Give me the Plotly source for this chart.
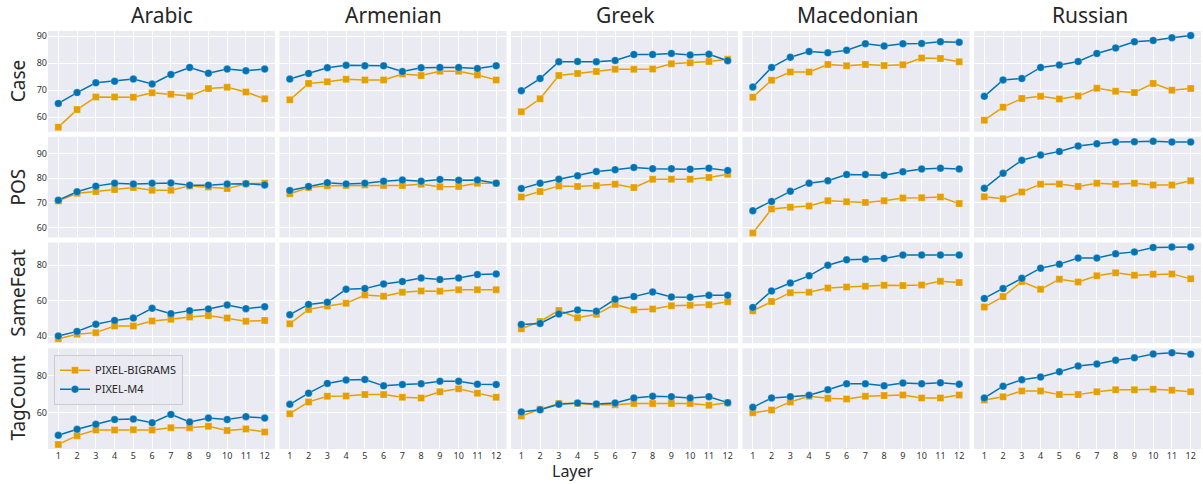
import plotly.graph_objects as go
from plotly.subplots import make_subplots

layers = list(range(1, 13))
languages = ["Arabic", "Armenian", "Greek", "Macedonian", "Russian"]
tasks = ["Case", "POS", "SameFeat", "TagCount"]
model_names = ["PIXEL-BIGRAMS", "PIXEL-M4"]
y_ticks = {"Case": [60, 70, 80, 90], "POS": [60, 70, 80, 90],
           "SameFeat": [40, 60, 80], "TagCount": [40, 60, 80]}

case_bigrams = {
    "Arabic": [56.3, 62.8, 67.5, 67.5, 67.4, 69.0, 68.5, 67.8, 70.6, 71.1, 69.3, 66.8],
    "Armenian": [66.4, 72.5, 73.1, 74.0, 73.8, 73.8, 76.0, 75.4, 77.0, 77.0, 75.6, 73.8],
    "Greek": [62.0, 66.8, 75.4, 76.2, 76.9, 77.7, 77.7, 77.8, 79.8, 80.1, 80.6, 81.4],
    "Macedonian": [67.4, 73.7, 76.7, 76.7, 79.5, 79.0, 79.5, 79.1, 79.4, 81.9, 81.7, 80.5],
    "Russian": [58.9, 63.7, 66.9, 67.7, 66.7, 67.8, 70.7, 69.6, 69.1, 72.5, 70.0, 70.6],
}
case_m4 = {
    "Arabic": [65.1, 69.1, 72.7, 73.3, 74.1, 72.3, 75.8, 78.4, 76.3, 77.8, 77.2, 77.8],
    "Armenian": [74.1, 76.2, 78.3, 79.2, 79.0, 79.0, 76.9, 78.3, 78.4, 78.4, 78.0, 79.0],
    "Greek": [69.8, 74.3, 80.5, 80.6, 80.5, 81.0, 83.2, 83.2, 83.6, 83.0, 83.3, 80.9],
    "Macedonian": [71.2, 78.4, 82.2, 84.3, 83.8, 84.8, 87.2, 86.3, 87.2, 87.3, 87.9, 87.7],
    "Russian": [67.7, 73.8, 74.3, 78.4, 79.3, 80.6, 83.6, 85.6, 87.9, 88.4, 89.4, 90.2],
}
pos_bigrams = {
    "Arabic": [70.8, 73.9, 74.6, 75.4, 76.2, 75.1, 75.1, 76.9, 76.4, 75.8, 77.8, 78.0],
    "Armenian": [73.7, 76.2, 77.0, 77.1, 77.3, 77.1, 77.1, 77.6, 76.6, 76.7, 78.0, 78.0],
    "Greek": [72.4, 74.6, 76.9, 76.7, 77.0, 77.6, 76.2, 79.6, 79.6, 79.6, 80.3, 81.6],
    "Macedonian": [57.8, 67.5, 68.2, 68.7, 70.9, 70.5, 70.2, 70.9, 72.0, 72.1, 72.4, 69.7],
    "Russian": [72.5, 71.7, 74.4, 77.6, 77.7, 76.7, 78.0, 77.6, 78.0, 77.3, 77.3, 79.0],
}
pos_m4 = {
    "Arabic": [71.1, 74.5, 76.8, 78.0, 77.7, 78.0, 78.1, 77.2, 77.2, 77.7, 77.8, 77.3],
    "Armenian": [75.0, 76.7, 78.2, 77.7, 78.0, 78.8, 79.3, 78.8, 79.5, 79.2, 79.3, 78.0],
    "Greek": [75.8, 78.0, 79.6, 81.0, 82.7, 83.5, 84.4, 83.9, 83.9, 83.7, 84.1, 83.1],
    "Macedonian": [66.8, 70.6, 74.7, 78.0, 79.0, 81.5, 81.5, 81.2, 82.6, 83.8, 84.1, 83.8],
    "Russian": [75.9, 82.0, 87.3, 89.4, 90.9, 93.1, 94.0, 94.7, 94.8, 95.0, 94.7, 94.7],
}
samefeat_bigrams = {
    "Arabic": [38.6, 41.1, 42.0, 45.7, 45.7, 48.6, 49.5, 50.8, 51.6, 50.2, 48.4, 48.9],
    "Armenian": [47.0, 55.1, 57.0, 58.5, 63.2, 62.5, 64.7, 65.5, 65.3, 66.2, 66.2, 66.2],
    "Greek": [44.2, 48.3, 54.5, 50.4, 52.3, 57.9, 54.9, 55.3, 57.2, 57.4, 57.7, 59.4],
    "Macedonian": [54.3, 59.6, 64.5, 64.7, 67.2, 67.7, 68.1, 68.7, 68.5, 68.9, 70.9, 70.2],
    "Russian": [56.4, 62.3, 70.8, 66.4, 72.1, 70.6, 74.0, 75.7, 74.3, 74.9, 75.1, 72.3],
}
samefeat_m4 = {
    "Arabic": [40.1, 42.7, 46.7, 48.9, 50.2, 55.7, 52.7, 54.4, 55.3, 57.6, 55.5, 56.6],
    "Armenian": [52.1, 57.9, 59.1, 66.4, 66.8, 69.4, 70.8, 72.8, 71.9, 72.8, 74.7, 75.1],
    "Greek": [46.6, 47.2, 52.5, 54.7, 54.0, 60.8, 62.3, 64.9, 62.1, 61.9, 63.0, 63.0],
    "Macedonian": [56.2, 65.5, 70.0, 74.0, 80.0, 83.0, 83.4, 83.8, 85.7, 85.7, 85.7, 85.7],
    "Russian": [61.3, 66.8, 72.6, 78.3, 80.6, 84.0, 84.0, 86.4, 87.5, 90.0, 90.2, 90.2],
}
tagcount_bigrams = {
    "Arabic": [43.0, 47.7, 50.7, 50.7, 50.9, 50.7, 52.0, 52.0, 52.7, 50.5, 51.3, 49.6],
    "Armenian": [59.5, 65.8, 68.8, 69.0, 69.7, 69.7, 68.3, 67.9, 71.2, 72.8, 70.5, 68.3],
    "Greek": [58.2, 61.8, 64.9, 64.9, 64.3, 64.3, 65.0, 65.0, 65.0, 65.0, 64.0, 65.4],
    "Macedonian": [60.0, 61.4, 65.8, 68.8, 67.7, 67.4, 68.8, 69.2, 69.5, 67.9, 67.9, 69.5],
    "Russian": [66.8, 68.5, 71.7, 71.7, 69.7, 69.7, 71.2, 72.3, 72.3, 72.6, 72.1, 71.2],
}
tagcount_m4 = {
    "Arabic": [47.9, 51.1, 53.8, 56.3, 56.6, 54.6, 59.1, 55.0, 57.1, 56.4, 57.9, 57.1],
    "Armenian": [64.5, 70.5, 75.7, 77.5, 77.8, 74.4, 75.1, 75.5, 76.9, 76.9, 75.3, 75.1],
    "Greek": [60.4, 61.6, 64.5, 65.2, 64.7, 65.2, 67.9, 68.8, 68.6, 67.9, 68.6, 65.4],
    "Macedonian": [62.9, 67.9, 68.6, 69.4, 72.3, 75.5, 75.5, 74.4, 75.9, 75.5, 76.0, 75.3],
    "Russian": [67.9, 74.2, 77.7, 79.1, 82.0, 85.0, 86.1, 88.1, 89.4, 91.5, 92.1, 91.4],
}

task_data = {
    "Case": (case_bigrams, case_m4),
    "POS": (pos_bigrams, pos_m4),
    "SameFeat": (samefeat_bigrams, samefeat_m4),
    "TagCount": (tagcount_bigrams, tagcount_m4),
}

ORANGE = "#E69F00"
BLUE = "#0173B2"
FONT = "Noto Sans"
BG = "#EAEAF2"

fig = make_subplots(rows=4, cols=5, shared_xaxes=True, shared_yaxes="rows",
                    horizontal_spacing=0.0039, vertical_spacing=0.012)

for r, task in enumerate(tasks, start=1):
    big, m4 = task_data[task]
    for c, lang in enumerate(languages, start=1):
        show = (r == 4 and c == 1)
        fig.add_trace(go.Scatter(
            x=layers, y=big[lang], mode="lines+markers", name=model_names[0],
            line=dict(color=ORANGE, width=1.5),
            marker=dict(symbol="square", size=7, color=ORANGE,
                        line=dict(color="rgba(255,255,255,0.5)", width=0.5)),
            showlegend=show, legendgroup="b"), row=r, col=c)
        fig.add_trace(go.Scatter(
            x=layers, y=m4[lang], mode="lines+markers", name=model_names[1],
            line=dict(color=BLUE, width=1.5),
            marker=dict(symbol="circle", size=7.5, color=BLUE,
                        line=dict(color="rgba(255,255,255,0.5)", width=0.5)),
            showlegend=show, legendgroup="m"), row=r, col=c)
    vals = [v for d in (big, m4) for lang in languages for v in d[lang]]
    lo, hi = min(vals), max(vals)
    pad = 0.05 * (hi - lo)
    for c in range(1, 6):
        fig.update_yaxes(range=[lo - pad, hi + pad], tickvals=y_ticks[task],
                         row=r, col=c)

fig.update_xaxes(range=[0.45, 12.55], tickvals=layers, showgrid=True,
                 gridcolor="white", gridwidth=1, zeroline=False, showline=False,
                 ticks="", tickfont=dict(size=9, color="#333333", family=FONT))
fig.update_yaxes(showgrid=True, gridcolor="white", gridwidth=1, zeroline=False,
                 showline=False, ticks="",
                 tickfont=dict(size=9, color="#333333", family=FONT))

annotations = []
n_w = 1153.0
n_h = 418.8
col_centers = [161.5, 393.5, 625.5, 857.5, 1089.5]
for lang, cx in zip(languages, col_centers):
    annotations.append(dict(text=lang, x=(cx - 48) / n_w, y=(449.5 - 15) / n_h,
                            xref="paper", yref="paper", showarrow=False,
                            xanchor="center", yanchor="middle",
                            font=dict(size=21, color="#262626", family=FONT)))
row_centers = [81, 187.5, 293, 399]
for task, cy in zip(tasks, row_centers):
    annotations.append(dict(text=task, x=(18 - 48) / n_w, y=(449.5 - cy) / n_h,
                            xref="paper", yref="paper", showarrow=False,
                            textangle=-90, xanchor="center", yanchor="middle",
                            font=dict(size=19, color="#262626", family=FONT)))
annotations.append(dict(text="Layer", x=(573 - 48) / n_w, y=(449.5 - 472) / n_h,
                        xref="paper", yref="paper", showarrow=False,
                        xanchor="center", yanchor="middle",
                        font=dict(size=16, color="#262626", family=FONT)))

fig.update_layout(
    width=1203, height=484,
    margin=dict(l=48, r=2, t=31, b=34.5),
    paper_bgcolor="white", plot_bgcolor=BG,
    font=dict(family=FONT, color="#262626"),
    annotations=annotations,
    legend=dict(x=(54 - 48) / n_w, y=(449.5 - 355) / n_h, xanchor="left",
                yanchor="top", bgcolor="rgba(234,234,242,0.85)",
                bordercolor="#CCCCCC", borderwidth=1,
                font=dict(size=11, color="#262626", family=FONT),
                itemwidth=30, tracegroupgap=0),
)

fig.write_html("out.html", config={"displayModeBar": False},
               post_script="document.body.style.margin='0';"
                           "document.body.style.overflow='hidden';")
